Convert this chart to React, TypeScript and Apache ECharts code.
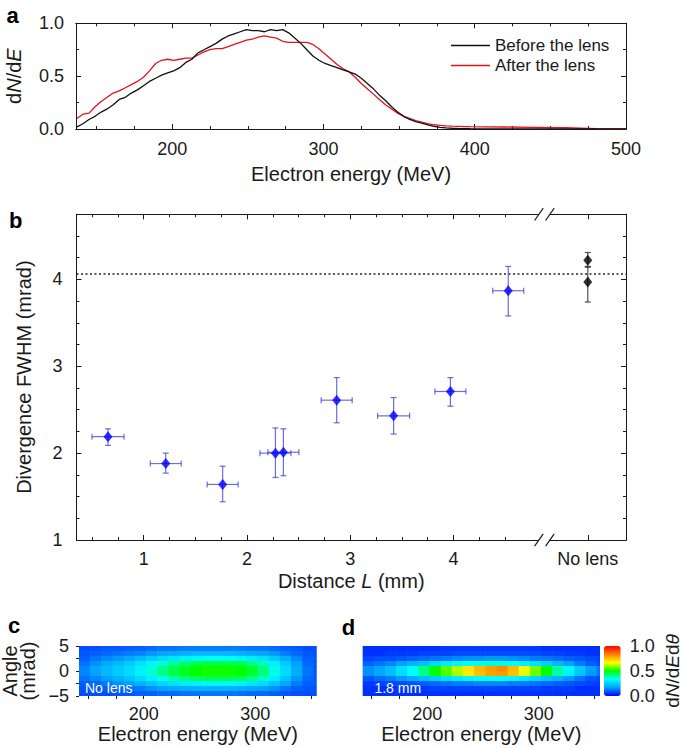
import React, { useEffect, useRef } from 'react';
import * as echarts from 'echarts';

// ---------- Panel a: electron spectra ----------
const spectrumEnergy = [
  137, 141, 145, 149, 153, 157, 161, 165, 169, 173, 177, 181, 185, 189, 193, 197, 201, 205, 209, 213,
  217, 221, 225, 229, 233, 237, 241, 245, 249, 253, 257, 261, 265, 269, 273, 277, 281, 285, 289, 293,
  297, 301, 305, 309, 313, 317, 321, 325, 329, 333, 337, 341, 345, 349, 353, 357, 361, 365, 369, 373,
  377, 381, 385, 389, 393, 397, 405, 420, 440, 460, 480, 500,
];
const beforeLens = [
  0.02, 0.05, 0.09, 0.12, 0.16, 0.19, 0.23, 0.28, 0.3, 0.34, 0.37, 0.41, 0.45, 0.48, 0.51, 0.53, 0.55, 0.58, 0.63, 0.66,
  0.72, 0.75, 0.78, 0.81, 0.85, 0.88, 0.9, 0.92, 0.94, 0.93, 0.93, 0.92, 0.94, 0.93, 0.94, 0.91, 0.86, 0.81, 0.75, 0.69,
  0.65, 0.62, 0.6, 0.58, 0.56, 0.54, 0.52, 0.48, 0.43, 0.38, 0.32, 0.27, 0.21, 0.16, 0.12, 0.09, 0.07, 0.055, 0.04, 0.025,
  0.015, 0.01, 0.007, 0.005, 0.004, 0.003, 0.002, 0.002, 0.001, 0.001, 0.001, 0.001,
];
const afterLens = [
  0.1, 0.14, 0.15, 0.21, 0.26, 0.3, 0.34, 0.36, 0.39, 0.42, 0.45, 0.49, 0.55, 0.62, 0.65, 0.66, 0.65, 0.66, 0.67, 0.67,
  0.7, 0.73, 0.75, 0.76, 0.76, 0.78, 0.8, 0.82, 0.84, 0.85, 0.87, 0.88, 0.87, 0.86, 0.83, 0.82, 0.82, 0.82, 0.82, 0.8,
  0.76, 0.71, 0.66, 0.61, 0.57, 0.54, 0.49, 0.43, 0.38, 0.33, 0.28, 0.23, 0.19, 0.15, 0.12, 0.1, 0.08, 0.065, 0.05, 0.04,
  0.035, 0.03, 0.027, 0.025, 0.023, 0.022, 0.021, 0.019, 0.016, 0.012, 0.004, 0.002,
];

// ---------- Panel b: divergence vs distance ----------
const lensDistance = [0.655, 1.214, 1.765, 2.276, 2.353, 2.869, 3.42, 3.97, 4.53];
const distanceError = [0.155, 0.15, 0.15, 0.15, 0.15, 0.15, 0.155, 0.15, 0.15];
const divergence = [2.19, 1.88, 1.64, 2.0, 2.01, 2.61, 2.43, 2.71, 3.87];
const divergenceLow = [2.09, 1.77, 1.44, 1.72, 1.74, 2.35, 2.22, 2.54, 3.58];
const divergenceHigh = [2.28, 2.0, 1.85, 2.29, 2.28, 2.87, 2.64, 2.87, 4.15];
const noLensPosition = 5.3;
const noLensDivergence = [4.22, 3.97];
const noLensLow = [4.15, 3.74];
const noLensHigh = [4.31, 4.14];
const noLensReference = 4.07;
const axisBreakAt = 4.88;

// ---------- Panels c, d: angle-resolved spectra ----------
const heatEnergies = [147, 157, 167, 177, 187, 197, 207, 217, 227, 237, 247, 257, 267, 277, 287, 297, 307, 317, 327, 337, 347, 357];
const heatAngles = [4.5, 3.5, 2.5, 1.5, 0.5, -0.5, -1.5, -2.5, -3.5, -4.5];
const noLensMap = [
  [0.08, 0.08, 0.09, 0.09, 0.1, 0.1, 0.11, 0.12, 0.12, 0.13, 0.13, 0.13, 0.13, 0.13, 0.13, 0.12, 0.12, 0.11, 0.1, 0.09, 0.08, 0.08],
  [0.09, 0.1, 0.11, 0.12, 0.13, 0.14, 0.16, 0.18, 0.19, 0.2, 0.21, 0.21, 0.21, 0.21, 0.2, 0.19, 0.18, 0.16, 0.13, 0.11, 0.09, 0.08],
  [0.1, 0.12, 0.14, 0.16, 0.18, 0.21, 0.24, 0.27, 0.29, 0.31, 0.32, 0.33, 0.33, 0.33, 0.32, 0.3, 0.28, 0.24, 0.19, 0.14, 0.1, 0.09],
  [0.12, 0.15, 0.18, 0.21, 0.24, 0.28, 0.32, 0.36, 0.4, 0.43, 0.45, 0.46, 0.46, 0.46, 0.45, 0.42, 0.38, 0.31, 0.24, 0.17, 0.11, 0.09],
  [0.14, 0.18, 0.21, 0.24, 0.27, 0.31, 0.36, 0.41, 0.45, 0.48, 0.5, 0.51, 0.51, 0.51, 0.5, 0.47, 0.42, 0.35, 0.27, 0.19, 0.12, 0.09],
  [0.14, 0.17, 0.21, 0.24, 0.27, 0.31, 0.36, 0.41, 0.45, 0.48, 0.5, 0.51, 0.51, 0.51, 0.5, 0.47, 0.42, 0.35, 0.27, 0.19, 0.12, 0.09],
  [0.12, 0.14, 0.17, 0.2, 0.23, 0.27, 0.31, 0.35, 0.39, 0.42, 0.44, 0.45, 0.45, 0.45, 0.44, 0.41, 0.37, 0.3, 0.23, 0.16, 0.11, 0.09],
  [0.1, 0.11, 0.13, 0.15, 0.17, 0.2, 0.23, 0.26, 0.28, 0.3, 0.31, 0.32, 0.32, 0.32, 0.31, 0.29, 0.27, 0.23, 0.18, 0.13, 0.1, 0.09],
  [0.09, 0.09, 0.1, 0.11, 0.12, 0.13, 0.15, 0.17, 0.18, 0.19, 0.2, 0.2, 0.2, 0.2, 0.19, 0.18, 0.17, 0.15, 0.12, 0.1, 0.09, 0.08],
  [0.08, 0.08, 0.08, 0.09, 0.09, 0.1, 0.1, 0.11, 0.11, 0.12, 0.12, 0.12, 0.12, 0.12, 0.12, 0.11, 0.11, 0.1, 0.09, 0.08, 0.08, 0.08],
];
const lensMap = [
  [0.05, 0.05, 0.05, 0.05, 0.05, 0.05, 0.05, 0.06, 0.06, 0.06, 0.06, 0.06, 0.06, 0.06, 0.06, 0.06, 0.05, 0.05, 0.05, 0.05, 0.05, 0.05],
  [0.05, 0.05, 0.06, 0.06, 0.06, 0.07, 0.07, 0.07, 0.08, 0.08, 0.08, 0.08, 0.08, 0.08, 0.08, 0.08, 0.07, 0.07, 0.06, 0.06, 0.05, 0.05],
  [0.07, 0.08, 0.08, 0.09, 0.1, 0.11, 0.12, 0.13, 0.14, 0.15, 0.15, 0.16, 0.16, 0.15, 0.14, 0.13, 0.12, 0.11, 0.1, 0.09, 0.08, 0.07],
  [0.1, 0.12, 0.14, 0.17, 0.2, 0.23, 0.27, 0.3, 0.32, 0.34, 0.35, 0.36, 0.36, 0.34, 0.31, 0.28, 0.25, 0.21, 0.17, 0.13, 0.1, 0.08],
  [0.15, 0.18, 0.22, 0.28, 0.34, 0.42, 0.5, 0.56, 0.62, 0.7, 0.76, 0.8, 0.82, 0.76, 0.66, 0.58, 0.5, 0.4, 0.32, 0.24, 0.17, 0.12],
  [0.15, 0.18, 0.22, 0.27, 0.33, 0.41, 0.49, 0.55, 0.61, 0.69, 0.75, 0.79, 0.8, 0.75, 0.65, 0.57, 0.49, 0.39, 0.31, 0.23, 0.16, 0.12],
  [0.09, 0.11, 0.13, 0.16, 0.19, 0.22, 0.25, 0.28, 0.3, 0.32, 0.33, 0.34, 0.34, 0.32, 0.29, 0.26, 0.23, 0.2, 0.16, 0.12, 0.09, 0.08],
  [0.06, 0.07, 0.08, 0.08, 0.09, 0.1, 0.11, 0.12, 0.13, 0.13, 0.14, 0.14, 0.14, 0.13, 0.13, 0.12, 0.11, 0.1, 0.09, 0.08, 0.07, 0.06],
  [0.05, 0.05, 0.05, 0.06, 0.06, 0.06, 0.07, 0.07, 0.07, 0.07, 0.07, 0.07, 0.07, 0.07, 0.07, 0.07, 0.06, 0.06, 0.06, 0.05, 0.05, 0.05],
  [0.05, 0.05, 0.05, 0.05, 0.05, 0.05, 0.05, 0.05, 0.05, 0.05, 0.05, 0.05, 0.05, 0.05, 0.05, 0.05, 0.05, 0.05, 0.05, 0.05, 0.05, 0.05],
];
const jetColors = ['#0000ff', '#00a0ff', '#00ffff', '#00ff00', '#ffff00', '#ff8000', '#ff0000'];

// ---------- Tick values ----------
const energyMajorTicks = [200, 300, 400, 500];
const energyMinorTicks = [150, 175, 225, 250, 275, 325, 350, 375, 425, 450, 475];
const dndeMajorTicks = [0, 0.5, 1];
const dndeMinorTicks = [0.25, 0.75];
const distanceMajorTicks = [1, 2, 3, 4, 5.3];
const distanceMinorTicks = [0.5, 0.75, 1.25, 1.5, 1.75, 2.25, 2.5, 2.75, 3.25, 3.5, 3.75, 4.25, 4.5];
const divergenceMajorTicks = [1, 2, 3, 4];
const divergenceMinorTicks = [1.25, 1.5, 1.75, 2.25, 2.5, 2.75, 3.25, 3.5, 3.75, 4.25, 4.5, 4.75];
const mapEnergyTicks = [150, 175, 200, 225, 250, 275, 300, 325, 350];
const mapEnergyLabels = [200, 300];
const angleTicks = [-5, -2.5, 0, 2.5, 5];
const angleLabels = [-5, 0, 5];
const colorbarLabels = [0, 0.5, 1];

const INK = '#1a1a1a';
const FONT = "'Liberation Sans', Arial, Helvetica, sans-serif";

const nameStyle = (extra: any = {}) => ({ fontSize: 20, color: INK, fontFamily: FONT, ...extra });
const richParts = (size = 20) => ({
  r: { fontSize: size, color: INK, fontFamily: FONT },
  i: { fontSize: size, color: INK, fontFamily: FONT, fontStyle: 'italic' },
});

function axis(o: any) {
  const hasTicks = o.ticks && o.ticks.length > 0;
  return {
    type: 'value',
    gridIndex: o.grid,
    position: o.pos,
    min: o.min,
    max: o.max,
    show: true,
    axisLine: { show: o.line !== false, onZero: false, lineStyle: { color: INK, width: 1 } },
    axisTick: hasTicks
      ? { show: true, inside: o.inside, length: o.len, customValues: o.ticks, lineStyle: { color: INK, width: 1 } }
      : { show: false },
    axisLabel: o.labels
      ? { show: true, customValues: o.labels, formatter: o.fmt, margin: o.margin, fontSize: 18, color: INK, fontFamily: FONT }
      : { show: false },
    splitLine: { show: false },
    name: o.name,
    nameLocation: 'middle',
    nameGap: o.nameGap,
    nameRotate: o.nameRotate,
    nameTextStyle: o.nameStyle,
    silent: true,
  };
}

const errorBars = (color: string) => (params: any, api: any) => {
  const x = api.value(0);
  const y = api.value(1);
  const xe = api.value(2);
  const lo = api.value(3);
  const hi = api.value(4);
  const style = { stroke: color, lineWidth: 1.2, fill: null };
  const cap = 3;
  const t = api.coord([x, hi]);
  const b = api.coord([x, lo]);
  const children: any[] = [
    { type: 'line', shape: { x1: t[0], y1: t[1], x2: b[0], y2: b[1] }, style },
    { type: 'line', shape: { x1: t[0] - cap, y1: t[1], x2: t[0] + cap, y2: t[1] }, style },
    { type: 'line', shape: { x1: b[0] - cap, y1: b[1], x2: b[0] + cap, y2: b[1] }, style },
  ];
  if (xe > 0) {
    const l = api.coord([x - xe, y]);
    const r = api.coord([x + xe, y]);
    children.push(
      { type: 'line', shape: { x1: l[0], y1: l[1], x2: r[0], y2: r[1] }, style },
      { type: 'line', shape: { x1: l[0], y1: l[1] - cap, x2: l[0], y2: l[1] + cap }, style },
      { type: 'line', shape: { x1: r[0], y1: r[1] - cap, x2: r[0], y2: r[1] + cap }, style },
    );
  }
  return { type: 'group', children };
};

const halfE = (heatEnergies[1] - heatEnergies[0]) / 2;
const halfA = Math.abs(heatAngles[0] - heatAngles[1]) / 2;
const heatCell = (params: any, api: any) => {
  const e = api.value(0);
  const a = api.value(1);
  const p0 = api.coord([e - halfE, a + halfA]);
  const p1 = api.coord([e + halfE, a - halfA]);
  const cs = params.coordSys;
  const shape = echarts.graphic.clipRectByRect(
    { x: p0[0], y: p0[1], width: p1[0] - p0[0] + 0.6, height: p1[1] - p0[1] + 0.6 },
    { x: cs.x, y: cs.y, width: cs.width, height: cs.height },
  );
  if (!shape) return null;
  return { type: 'rect', shape, style: { fill: api.visual('color') } };
};
const heatData = (map: number[][]) => {
  const out: number[][] = [];
  heatAngles.forEach((a, r) => heatEnergies.forEach((e, c) => out.push([e, a, map[r][c]])));
  return out;
};

export default function App() {
  const ref = useRef<HTMLDivElement>(null);
  useEffect(() => {
    if (!ref.current) return;
    const chart = echarts.init(ref.current, null, { renderer: 'svg' });
    const grids = [
      { left: 76, top: 23.3, width: 550, height: 105.7 },
      { left: 76.5, top: 214.3, width: 549.5, height: 325.7 },
      { left: 79, top: 646, width: 237.7, height: 50 },
      { left: 362.7, top: 646, width: 237.3, height: 50 },
      { left: 604, top: 646, width: 16.7, height: 50 },
    ].map((g) => ({ ...g, containLabel: false, outerBoundsMode: 'none', show: false }));

    const aX = { min: 136.4, max: 500 };
    const aY = { min: 0, max: 1 };
    const bX = { min: 0.35, max: 5.67 };
    const bY = { min: 1, max: 4.75 };
    const mapX = { min: 142, max: 355 };
    const mapY = { min: -5, max: 5 };

    const xAxis = [
      axis({ grid: 0, pos: 'bottom', ...aX, ticks: energyMajorTicks, len: 5, inside: true, labels: energyMajorTicks,
        fmt: (v: number) => String(v), margin: 11, name: 'Electron energy (MeV)', nameGap: 35, nameStyle: nameStyle() }),
      axis({ grid: 0, pos: 'top', ...aX, ticks: energyMajorTicks, len: 5, inside: true }),
      axis({ grid: 0, pos: 'bottom', ...aX, ticks: energyMinorTicks, len: 3, inside: true }),
      axis({ grid: 0, pos: 'top', ...aX, ticks: energyMinorTicks, len: 3, inside: true }),
      axis({ grid: 1, pos: 'bottom', ...bX, ticks: distanceMajorTicks, len: 5, inside: true, labels: distanceMajorTicks,
        fmt: (v: number) => (v > 5 ? 'No lens' : String(v)), margin: 10, name: 'Distance {i|L} (mm)', nameGap: 31,
        nameStyle: nameStyle({ rich: richParts() }) }),
      axis({ grid: 1, pos: 'top', ...bX, ticks: distanceMajorTicks, len: 5, inside: true }),
      axis({ grid: 1, pos: 'bottom', ...bX, ticks: distanceMinorTicks, len: 3, inside: true }),
      axis({ grid: 1, pos: 'top', ...bX, ticks: distanceMinorTicks, len: 3, inside: true }),
      axis({ grid: 2, pos: 'bottom', ...mapX, ticks: mapEnergyTicks, len: 3, inside: false, line: false, labels: mapEnergyLabels,
        fmt: (v: number) => String(v), margin: 9, name: 'Electron energy (MeV)', nameGap: 28, nameStyle: nameStyle() }),
      axis({ grid: 3, pos: 'bottom', ...mapX, ticks: mapEnergyTicks, len: 3, inside: false, line: false, labels: mapEnergyLabels,
        fmt: (v: number) => String(v), margin: 9, name: 'Electron energy (MeV)', nameGap: 28, nameStyle: nameStyle() }),
      { type: 'value', gridIndex: 4, show: false, min: 0, max: 1 },
    ];
    const yAxis = [
      axis({ grid: 0, pos: 'left', ...aY, ticks: dndeMajorTicks, len: 5, inside: true, labels: dndeMajorTicks,
        fmt: (v: number) => v.toFixed(1), margin: 12, name: '{r|d}{i|N}{r|/d}{i|E}', nameGap: 52,
        nameStyle: nameStyle({ rich: richParts() }) }),
      axis({ grid: 0, pos: 'right', ...aY, ticks: dndeMajorTicks, len: 5, inside: true }),
      axis({ grid: 0, pos: 'left', ...aY, ticks: dndeMinorTicks, len: 3, inside: true }),
      axis({ grid: 0, pos: 'right', ...aY, ticks: dndeMinorTicks, len: 3, inside: true }),
      axis({ grid: 1, pos: 'left', ...bY, ticks: divergenceMajorTicks, len: 5, inside: true, labels: divergenceMajorTicks,
        fmt: (v: number) => String(v), margin: 14, name: 'Divergence FWHM (mrad)', nameGap: 43, nameStyle: nameStyle() }),
      axis({ grid: 1, pos: 'right', ...bY, ticks: divergenceMajorTicks, len: 5, inside: true }),
      axis({ grid: 1, pos: 'left', ...bY, ticks: divergenceMinorTicks, len: 3, inside: true }),
      axis({ grid: 1, pos: 'right', ...bY, ticks: divergenceMinorTicks, len: 3, inside: true }),
      axis({ grid: 2, pos: 'left', ...mapY, ticks: angleTicks, len: 3, inside: false, line: false, labels: angleLabels,
        fmt: (v: number) => (v < 0 ? '\u2212' + Math.abs(v) : String(v)), margin: 10, name: 'Angle\n(mrad)', nameGap: 42,
        nameStyle: nameStyle({ lineHeight: 18 }) }),
      axis({ grid: 3, pos: 'left', ...mapY, ticks: [], line: false }),
      axis({ grid: 4, pos: 'right', min: 0, max: 1, ticks: [], line: false, labels: colorbarLabels,
        fmt: (v: number) => v.toFixed(1), margin: 9, name: '{r|d}{i|N}{r|/d}{i|E}{r|d}{i|θ}', nameGap: 42, nameRotate: 90,
        nameStyle: nameStyle({ fontSize: 19, rich: richParts(19) }) }),
    ];

    const option: any = {
      animation: false,
      backgroundColor: '#ffffff',
      textStyle: { fontFamily: FONT },
      grid: grids,
      xAxis,
      yAxis,
      legend: {
        data: ['Before the lens', 'After the lens'],
        left: 451,
        top: 37,
        orient: 'vertical',
        padding: 0,
        itemWidth: 39,
        itemHeight: 1.5,
        itemGap: 3,
        icon: 'rect',
        selectedMode: false,
        textStyle: { fontSize: 17, color: INK, fontFamily: FONT },
      },
      visualMap: {
        type: 'continuous',
        min: 0,
        max: 1,
        dimension: 2,
        seriesIndex: [6, 7],
        left: 604,
        top: 646,
        itemWidth: 16.7,
        itemHeight: 50,
        padding: 0,
        calculable: false,
        hoverLink: false,
        showLabel: false,
        text: null,
        inRange: { color: jetColors },
      },
      series: [
        {
          type: 'line', name: 'Before the lens', xAxisIndex: 0, yAxisIndex: 0, symbol: 'none', showSymbol: false,
          data: spectrumEnergy.map((e, i) => [e, beforeLens[i]]),
          lineStyle: { color: '#111111', width: 1.3 }, itemStyle: { color: '#111111' }, z: 3, silent: true,
        },
        {
          type: 'line', name: 'After the lens', xAxisIndex: 0, yAxisIndex: 0, symbol: 'none', showSymbol: false,
          data: spectrumEnergy.map((e, i) => [e, afterLens[i]]),
          lineStyle: { color: '#e3131b', width: 1.3 }, itemStyle: { color: '#e3131b' }, z: 2, silent: true,
        },
        {
          type: 'custom', xAxisIndex: 4, yAxisIndex: 4, renderItem: errorBars('rgba(45,45,225,0.7)'),
          data: lensDistance.map((d, i) => [d, divergence[i], distanceError[i], divergenceLow[i], divergenceHigh[i]]),
          encode: { x: 0, y: 1 }, z: 2, silent: true,
        },
        {
          type: 'scatter', xAxisIndex: 4, yAxisIndex: 4, symbol: 'diamond', symbolSize: [9, 11],
          itemStyle: { color: '#0000ff' }, z: 4, silent: true,
          data: lensDistance.map((d, i) => [d, divergence[i]]),
          markLine: {
            silent: true, symbol: ['none', 'none'], label: { show: false },
            lineStyle: { type: [2, 2.5], color: '#222222', width: 1.5 },
            data: [{ yAxis: noLensReference }],
          },
        },
        {
          type: 'custom', xAxisIndex: 4, yAxisIndex: 4, renderItem: errorBars('rgba(40,40,40,0.8)'),
          data: noLensDivergence.map((v, i) => [noLensPosition, v, 0, noLensLow[i], noLensHigh[i]]),
          encode: { x: 0, y: 1 }, z: 2, silent: true,
        },
        {
          type: 'scatter', xAxisIndex: 4, yAxisIndex: 4, symbol: 'diamond', symbolSize: [9, 11],
          itemStyle: { color: '#000000' }, z: 4, silent: true,
          data: noLensDivergence.map((v) => [noLensPosition, v]),
        },
        {
          type: 'custom', xAxisIndex: 8, yAxisIndex: 8, renderItem: heatCell, data: heatData(noLensMap),
          dimensions: ['energy', 'angle', 'value'], encode: { x: 0, y: 1 }, silent: true,
        },
        {
          type: 'custom', xAxisIndex: 9, yAxisIndex: 9, renderItem: heatCell, data: heatData(lensMap),
          dimensions: ['energy', 'angle', 'value'], encode: { x: 0, y: 1 }, silent: true,
        },
      ],
    };
    chart.setOption(option);

    const bx = chart.convertToPixel({ xAxisIndex: 4 }, axisBreakAt) as number;
    const byTop = chart.convertToPixel({ yAxisIndex: 4 }, bY.max) as number;
    const byBottom = chart.convertToPixel({ yAxisIndex: 4 }, bY.min) as number;
    const breakMarks: any[] = [];
    [byTop, byBottom].forEach((y) => {
      breakMarks.push({ type: 'rect', z: 100, shape: { x: bx - 5.5, y: y - 2, width: 11, height: 4 }, style: { fill: '#ffffff' } });
      [-5.5, 5.5].forEach((dx) => {
        breakMarks.push({
          type: 'line', z: 101,
          shape: { x1: bx + dx - 4.3, y1: y + 6.2, x2: bx + dx + 4.3, y2: y - 6.2 },
          style: { stroke: INK, lineWidth: 1.2 },
        });
      });
    });
    const letter = (t: string, x: number, y: number) => ({
      type: 'text', x, y, z: 100,
      style: { text: t, fontSize: 22, fontWeight: 'bold', fontFamily: FONT, fill: '#000000', verticalAlign: 'middle', align: 'left' },
    });
    const note = (t: string, x: number, y: number) => ({
      type: 'text', x, y, z: 100,
      style: { text: t, fontSize: 14, fontFamily: FONT, fill: '#ffffff', verticalAlign: 'middle', align: 'left' },
    });
    chart.setOption({
      graphic: [
        ...breakMarks,
        letter('a', 6.6, 15.4),
        letter('b', 9, 220.4),
        letter('c', 8, 625.4),
        letter('d', 341.7, 627.4),
        note('No lens', 85, 688),
        note('1.8 mm', 374.4, 688),
      ],
    });

    return () => chart.dispose();
  }, []);
  return <div ref={ref} style={{ position: 'fixed', left: 0, top: 0, width: 685, height: 748, background: '#fff' }} />;
}
